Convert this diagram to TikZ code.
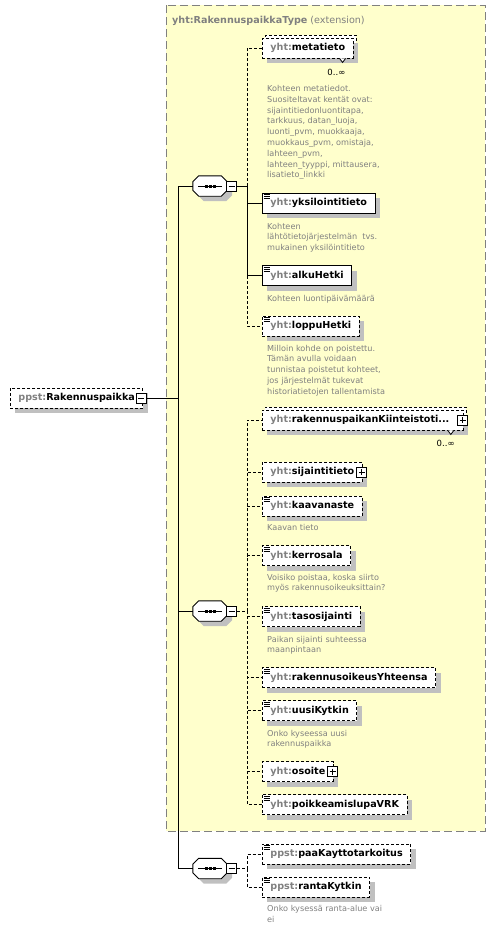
\documentclass[tikz,border=0pt]{standalone}
\usepackage{fontspec}
\setmainfont{DejaVu Sans}
\usepackage{tikz}
\usetikzlibrary{positioning,shadows,calc}
\definecolor{xsdyellow}{RGB}{255,255,204}
\definecolor{xsdgray}{RGB}{128,128,128}
\definecolor{xsdshadow}{RGB}{192,192,192}
\newcommand{\pfx}[1]{\textcolor{xsdgray}{#1:}}
\newcommand{\pmgap}{\hspace{6pt}}
\tikzset{
  conn/.style={draw=black,line width=0.9pt},
  opt/.style={dash pattern=on 3pt off 2pt},
  elem/.style={draw=black,fill=white,line width=0.9pt,anchor=west,inner xsep=8pt,inner ysep=0pt,
               minimum height=20pt,text height=7pt,text depth=2pt,
               font=\fontsize{9.6}{11.5}\selectfont\bfseries,
               drop shadow={shadow xshift=5pt,shadow yshift=-5pt,fill=xsdshadow,opacity=1}},
  multi/.style={copy shadow={shadow xshift=3pt,shadow yshift=3pt,draw=black,fill=white,
                line width=0.9pt,dash pattern=on 3pt off 2pt}},
  notch/.style={draw=black,fill=white,line width=0.8pt},
  simple/.style={path picture={
    \foreach \k in {1.5,3.5,5.5}
      \draw[line width=0.8pt,solid] ([shift={(1.5pt,-\k pt)}]path picture bounding box.north west) -- ++(6pt,0pt);
  }},
  pmbox/.style={draw=black,fill=white,solid,line width=0.8pt,minimum size=10pt,inner sep=0pt},
  pminus/.style={pmbox,path picture={
    \draw[line width=0.8pt] ([xshift=2pt]path picture bounding box.west) -- ([xshift=-2pt]path picture bounding box.east);
  }},
  pplus/.style={pmbox,path picture={
    \draw[line width=0.8pt] ([xshift=2pt]path picture bounding box.west) -- ([xshift=-2pt]path picture bounding box.east);
    \draw[line width=0.8pt] ([yshift=-2pt]path picture bounding box.north) -- ([yshift=2pt]path picture bounding box.south);
  }},
  seqbox/.style={minimum width=34pt,minimum height=20pt,inner sep=0pt,
    append after command={\pgfextra{
      \draw[fill=white,line width=0.9pt,drop shadow={shadow xshift=5pt,shadow yshift=-5pt,fill=xsdshadow,opacity=1}]
        ([xshift=6pt]\tikzlastnode.north west) -- ([xshift=-6pt]\tikzlastnode.north east)
        -- ([yshift=-6pt]\tikzlastnode.north east) -- ([yshift=6pt]\tikzlastnode.south east)
        -- ([xshift=-6pt]\tikzlastnode.south east) -- ([xshift=6pt]\tikzlastnode.south west)
        -- ([yshift=6pt]\tikzlastnode.south west) -- ([yshift=-6pt]\tikzlastnode.north west) -- cycle;
      \draw[line width=0.8pt] ([xshift=-12pt]\tikzlastnode.center) -- ([xshift=12pt]\tikzlastnode.center);
      \foreach \dx in {-4,0,4}
        \fill ([xshift=\dx pt]\tikzlastnode.center) +(-1.5pt,-1.5pt) rectangle +(1.5pt,1.5pt);
    }}},
  docnote/.style={anchor=north west,align=left,inner sep=0pt,text=xsdgray,font=\fontsize{8.15}{10.8}\selectfont},
  cardnote/.style={anchor=base east,inner sep=0pt,font=\fontsize{8.5}{10}\selectfont},
  extbox/.style={fill=xsdyellow,draw=xsdgray,line width=0.9pt,dash pattern=on 8pt off 4pt}
}
\begin{document}
\begin{tikzpicture}[x=1pt,y=-1pt]
\useasboundingbox (0,0) rectangle (495,930);

% extension area
\path[extbox] (166,5) rectangle (485,831);
\node[anchor=base west,inner sep=0pt,text=xsdgray,font=\fontsize{9.6}{11.5}\selectfont] (type-title) at (172,23)
  {\textbf{yht:RakennuspaikkaType} (extension)};

% root element
\node[elem,opt] (root) at (10,398) {\pfx{ppst}Rakennuspaikka\pmgap};
\node[pminus] (root-pm) at ([xshift=-2pt]root.east) {};
\coordinate (trunk) at (178,398);

% sequences
\node[seqbox] (seq1) at (210,186) {};
\node[pminus,anchor=west] (seq1-pm) at ([xshift=-1pt]seq1.east) {};
\coordinate (bus1) at (247,186);
\node[seqbox] (seq2) at (210,611) {};
\node[pminus,anchor=west] (seq2-pm) at ([xshift=-1pt]seq2.east) {};
\coordinate (bus2) at (247,611);
\node[seqbox] (seq3) at (210,868.5) {};
\node[pminus,anchor=west] (seq3-pm) at ([xshift=-1pt]seq3.east) {};
\coordinate (bus3) at (247,868.5);

% first sequence
\node[multi,elem,opt] (meta) at (262,48) {\pfx{yht}metatieto};
\draw[notch] ([xshift=-14pt]meta.south east) -- ++(3pt,-4pt) -- ++(3pt,4pt);
\node[cardnote] (meta-card) at ([shift={(-8pt,-17pt)}]meta.south east) {0..∞};
\node[docnote] (meta-doc) at (267,85.2) {Kohteen metatiedot.\\Suositeltavat kentät ovat:\\sijaintitiedonluontitapa,\\
  tarkkuus, datan\_luoja,\\luonti\_pvm, muokkaaja,\\muokkaus\_pvm, omistaja,\\lahteen\_pvm,\\
  lahteen\_tyyppi, mittausera,\\lisatieto\_linkki};
\node[elem,simple] (yks) at (262,203) {\pfx{yht}yksilointitieto};
\node[docnote] (yks-doc) at (267,222.7) {Kohteen\\lähtötietojärjestelmän\ \ tvs.\\mukainen yksilöintitieto};
\node[elem,simple] (alku) at (262,275.5) {\pfx{yht}alkuHetki};
\node[docnote] (alku-doc) at (267,294.7) {Kohteen luontipäivämäärä};
\node[elem,opt,simple] (loppu) at (262,326) {\pfx{yht}loppuHetki};
\node[docnote] (loppu-doc) at (267,344.7) {Milloin kohde on poistettu.\\Tämän avulla voidaan\\
  tunnistaa poistetut kohteet,\\jos järjestelmät tukevat\\historiatietojen tallentamista};

% second sequence
\node[multi,elem,opt] (rkp) at (262,420) {\pfx{yht}rakennuspaikanKiinteistoti...\pmgap\pmgap};
\node[pplus] (rkp-pm) at ([xshift=-1pt]rkp.east) {};
\draw[notch] ([xshift=-16pt]rkp.south east) -- ++(3pt,-4pt) -- ++(3pt,4pt);
\node[cardnote] (rkp-card) at ([shift={(-9pt,-16pt)}]rkp.south east) {0..∞};
\node[elem,opt] (sij) at (262,472) {\pfx{yht}sijaintitieto\pmgap};
\node[pplus] (sij-pm) at ([xshift=-1pt]sij.east) {};
\node[elem,opt,simple] (kaava) at (262,506) {\pfx{yht}kaavanaste};
\node[docnote] (kaava-doc) at (267,523.7) {Kaavan tieto};
\node[elem,opt,simple] (kerros) at (262,555.5) {\pfx{yht}kerrosala};
\node[docnote] (kerros-doc) at (267,573.7) {Voisiko poistaa, koska siirto\\myös rakennusoikeuksittain?};
\node[elem,opt,simple] (taso) at (262,616.5) {\pfx{yht}tasosijainti};
\node[docnote] (taso-doc) at (267,635.7) {Paikan sijainti suhteessa\\maanpintaan};
\node[elem,opt,simple] (rakoik) at (262,677.5) {\pfx{yht}rakennusoikeusYhteensa};
\node[elem,opt,simple] (uusi) at (262,710.5) {\pfx{yht}uusiKytkin};
\node[docnote] (uusi-doc) at (267,729.7) {Onko kyseessa uusi\\rakennuspaikka};
\node[elem,opt] (osoite) at (262,771.5) {\pfx{yht}osoite\pmgap};
\node[pplus] (osoite-pm) at ([xshift=-1pt]osoite.east) {};
\node[elem,opt,simple] (poikk) at (262,804.5) {\pfx{yht}poikkeamislupaVRK};

% third sequence
\node[elem,opt,simple] (paak) at (262,854) {\pfx{ppst}paaKayttotarkoitus};
\node[elem,opt,simple] (ranta) at (262,887) {\pfx{ppst}rantaKytkin};
\node[docnote] (ranta-doc) at (267,905.2) {Onko kysessä ranta-alue vai\\ei};

% connectors
\draw[conn] (root-pm) -- (trunk);
\draw[conn] (trunk) |- (seq1);
\draw[conn] (trunk) |- (seq2);
\draw[conn] (trunk) |- (seq3);

\draw[conn] (seq1-pm) -- (bus1);
\draw[conn,opt] (bus1) |- (meta);
\draw[conn] (bus1) |- (yks);
\draw[conn] (bus1) |- (alku);
\draw[conn,opt] (bus1) |- (loppu);

\draw[conn,opt] (seq2-pm) -- (bus2);
\foreach \n in {rkp,sij,kaava,kerros,taso,rakoik,uusi,osoite,poikk}
  \draw[conn,opt] (bus2) |- (\n);

\draw[conn,opt] (seq3-pm) -- (bus3);
\draw[conn,opt] (bus3) |- (paak);
\draw[conn,opt] (bus3) |- (ranta);
\end{tikzpicture}
\end{document}
